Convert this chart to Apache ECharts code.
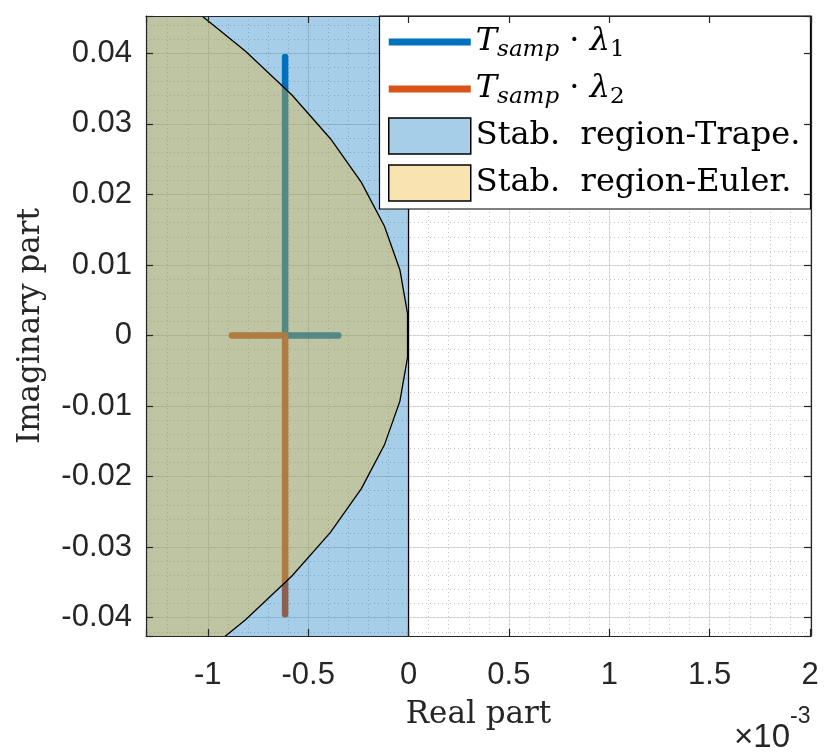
<!DOCTYPE html>
<html><head><meta charset="utf-8">
<script src="https://cdn.jsdelivr.net/npm/echarts@6/dist/echarts.min.js"></script>
<style>html,body{margin:0;padding:0;background:#fff}#c{width:830px;height:752px}</style>
</head><body><div id="c"></div>
<script>
// Real parts are in units of 1e-3 (axis shows x10^-3)
const xTickValues = [-1, -0.5, 0, 0.5, 1, 1.5, 2];
const xTickLabels = ['-1', '-0.5', '0', '0.5', '1', '1.5', '2'];
const yTickValues = [-0.04, -0.03, -0.02, -0.01, 0, 0.01, 0.02, 0.03, 0.04];
const yTickLabels = ['-0.04', '-0.03', '-0.02', '-0.01', '0', '0.01', '0.02', '0.03', '0.04'];

const lambda1Re = [-0.35, -0.615, -0.615];
const lambda1Im = [0, 0, 0.0395];
const lambda2Re = [-0.88, -0.615, -0.615];
const lambda2Im = [0, 0, -0.0395];

const trapeRe = [-1.6, 0, 0, -1.6];
const trapeIm = [0.06, 0.06, -0.06, -0.06];

const eulerIm = [0.0527, 0.0465, 0.0403, 0.0341, 0.0279, 0.0217, 0.0155, 0.0093, 0.0031,
                 -0.0031, -0.0093, -0.0155, -0.0217, -0.0279, -0.0341, -0.0403, -0.0465, -0.0527];
const eulerRe = [-1.389, -1.081, -0.812, -0.581, -0.389, -0.235, -0.120, -0.043, -0.005,
                 -0.005, -0.043, -0.120, -0.235, -0.389, -0.581, -0.812, -1.081, -1.389];

const X_MIN = -1.308, X_MAX = 2.005, Y_MIN = -0.0426, Y_MAX = 0.0453;
const AX = '#262626';
const SANS = 'Liberation Sans';
const SERIF = 'DejaVu Serif';

function pick(vals, labels, v) {
  for (let i = 0; i < vals.length; i++) if (Math.abs(vals[i] - v) < 1e-9) return labels[i];
  return '';
}
function gridAxis(min, max, split, style, pos) {
  return {
    type: 'value', min: min, max: max, splitNumber: split, position: pos,
    axisLine: { show: false }, axisTick: { show: false }, axisLabel: { show: false },
    splitLine: { show: true, lineStyle: style }
  };
}
function frameAxis(min, max, split, pos) {
  return {
    type: 'value', min: min, max: max, splitNumber: split, position: pos, z: 10,
    axisLine: { show: true, onZero: false, lineStyle: { color: AX, width: 1.2 } },
    axisTick: { show: true, inside: true, length: 7, lineStyle: { color: AX, width: 1.2 } },
    axisLabel: { show: false }, splitLine: { show: false }
  };
}
const majorStyle = { color: '#dcdcdc', width: 1 };
const minorStyle = { color: '#c4c4c4', width: 1, type: [1, 3] };

const xMain = frameAxis(X_MIN, X_MAX, 7, 'bottom');
xMain.axisLabel = { show: true, margin: 24, fontFamily: SANS, fontSize: 31, color: AX,
  formatter: v => pick(xTickValues, xTickLabels, v) };
xMain.name = 'Real part'; xMain.nameLocation = 'middle'; xMain.nameGap = 63;
xMain.nameTextStyle = { fontFamily: SERIF, fontSize: 31, color: AX };

const yMain = frameAxis(Y_MIN, Y_MAX, 9, 'left');
yMain.axisLabel = { show: true, margin: 14, fontFamily: SANS, fontSize: 31, color: AX,
  formatter: v => pick(yTickValues, yTickLabels, v) };
yMain.name = 'Imaginary part'; yMain.nameLocation = 'middle'; yMain.nameGap = 100; yMain.nameRotate = 90;
yMain.nameTextStyle = { fontFamily: SERIF, fontSize: 31, color: AX };

const chart = echarts.init(document.getElementById('c'));
chart.setOption({
  animation: false,
  backgroundColor: '#fff',
  grid: { left: 146, right: 19, top: 16, bottom: 116 },
  xAxis: [xMain, frameAxis(X_MIN, X_MAX, 7, 'top'),
          gridAxis(X_MIN, X_MAX, 7, majorStyle, 'bottom'), gridAxis(X_MIN, X_MAX, 33, minorStyle, 'bottom')],
  yAxis: [yMain, frameAxis(Y_MIN, Y_MAX, 9, 'right'),
          gridAxis(Y_MIN, Y_MAX, 9, majorStyle, 'left'), gridAxis(Y_MIN, Y_MAX, 44, minorStyle, 'left')],
  legend: {
    orient: 'vertical', left: 388, top: 22, itemWidth: 82, itemHeight: 36, itemGap: 7, padding: 0,
    selectedMode: false, z: 6,
    textStyle: {
      fontFamily: SERIF, fontSize: 32, color: '#000', lineHeight: 40,
      rich: {
        it: { fontFamily: SERIF, fontStyle: 'italic', fontSize: 32, lineHeight: 40 },
        n: { fontFamily: SERIF, fontSize: 32, lineHeight: 40 },
        sub: { fontFamily: SERIF, fontStyle: 'italic', fontSize: 23, lineHeight: 17, verticalAlign: 'bottom' },
        subn: { fontFamily: SERIF, fontSize: 23, lineHeight: 17, verticalAlign: 'bottom' }
      }
    },
    formatter: function (name) {
      if (name === 'lambda1') return '{it|T}{sub|samp}{n| · }{it|λ}{subn|1}';
      if (name === 'lambda2') return '{it|T}{sub|samp}{n| · }{it|λ}{subn|2}';
      return '{n|' + name.replace('. ', '.  ') + '}';
    },
    data: [
      { name: 'lambda1', icon: 'path://M0,0H82V7H0Z', itemStyle: { color: '#0072BD', borderWidth: 0 } },
      { name: 'lambda2', icon: 'path://M0,0H82V7H0Z', itemStyle: { color: '#D95319', borderWidth: 0 } },
      { name: 'Stab. region-Trape.', icon: 'rect', itemStyle: { color: '#a6cee8', borderColor: '#000', borderWidth: 1.5 } },
      { name: 'Stab. region-Euler.', icon: 'rect', itemStyle: { color: '#f9e4b1', borderColor: '#000', borderWidth: 1.5 } }
    ]
  },
  graphic: [
    { type: 'rect', z: 5, shape: { x: 379.5, y: 16, width: 431, height: 193 },
      style: { fill: '#fff', stroke: '#000', lineWidth: 1.2 } },
    { type: 'text', z: 5, style: { text: '×10', x: 790, y: 738, align: 'right', verticalAlign: 'middle',
      fontFamily: SANS, fontSize: 33, fill: AX } },
    { type: 'text', z: 5, style: { text: '-3', x: 790, y: 717, align: 'left', verticalAlign: 'middle',
      fontFamily: SANS, fontSize: 23, fill: AX } }
  ],
  series: [
    { type: 'line', name: 'lambda1', z: 1, showSymbol: false, symbol: 'none', clip: true,
      data: lambda1Re.map((x, i) => [x, lambda1Im[i]]),
      lineStyle: { color: '#0072BD', width: 6.5, cap: 'round', join: 'round' }, itemStyle: { color: '#0072BD' } },
    { type: 'line', name: 'lambda2', z: 1, showSymbol: false, symbol: 'none', clip: true,
      data: lambda2Re.map((x, i) => [x, lambda2Im[i]]),
      lineStyle: { color: '#D95319', width: 6.5, cap: 'round', join: 'round' }, itemStyle: { color: '#D95319' } },
    { type: 'custom', name: 'Stab. region-Trape.', z: 2, clip: true, data: [[0, 0]],
      itemStyle: { color: '#a6cee8' },
      renderItem: (params, api) => ({
        type: 'polygon',
        shape: { points: trapeRe.map((x, i) => api.coord([x, trapeIm[i]])) },
        style: { fill: 'rgba(0,114,189,0.35)', stroke: '#000', lineWidth: 1.3 }
      }) },
    { type: 'custom', name: 'Stab. region-Euler.', z: 3, clip: true, data: [[0, 0]],
      itemStyle: { color: '#f9e4b1' },
      renderItem: (params, api) => ({
        type: 'polygon',
        shape: { points: eulerRe.map((x, i) => api.coord([x, eulerIm[i]])) },
        style: { fill: 'rgba(237,177,32,0.35)', stroke: '#000', lineWidth: 1.3 }
      }) }
  ]
});
</script></body></html>
